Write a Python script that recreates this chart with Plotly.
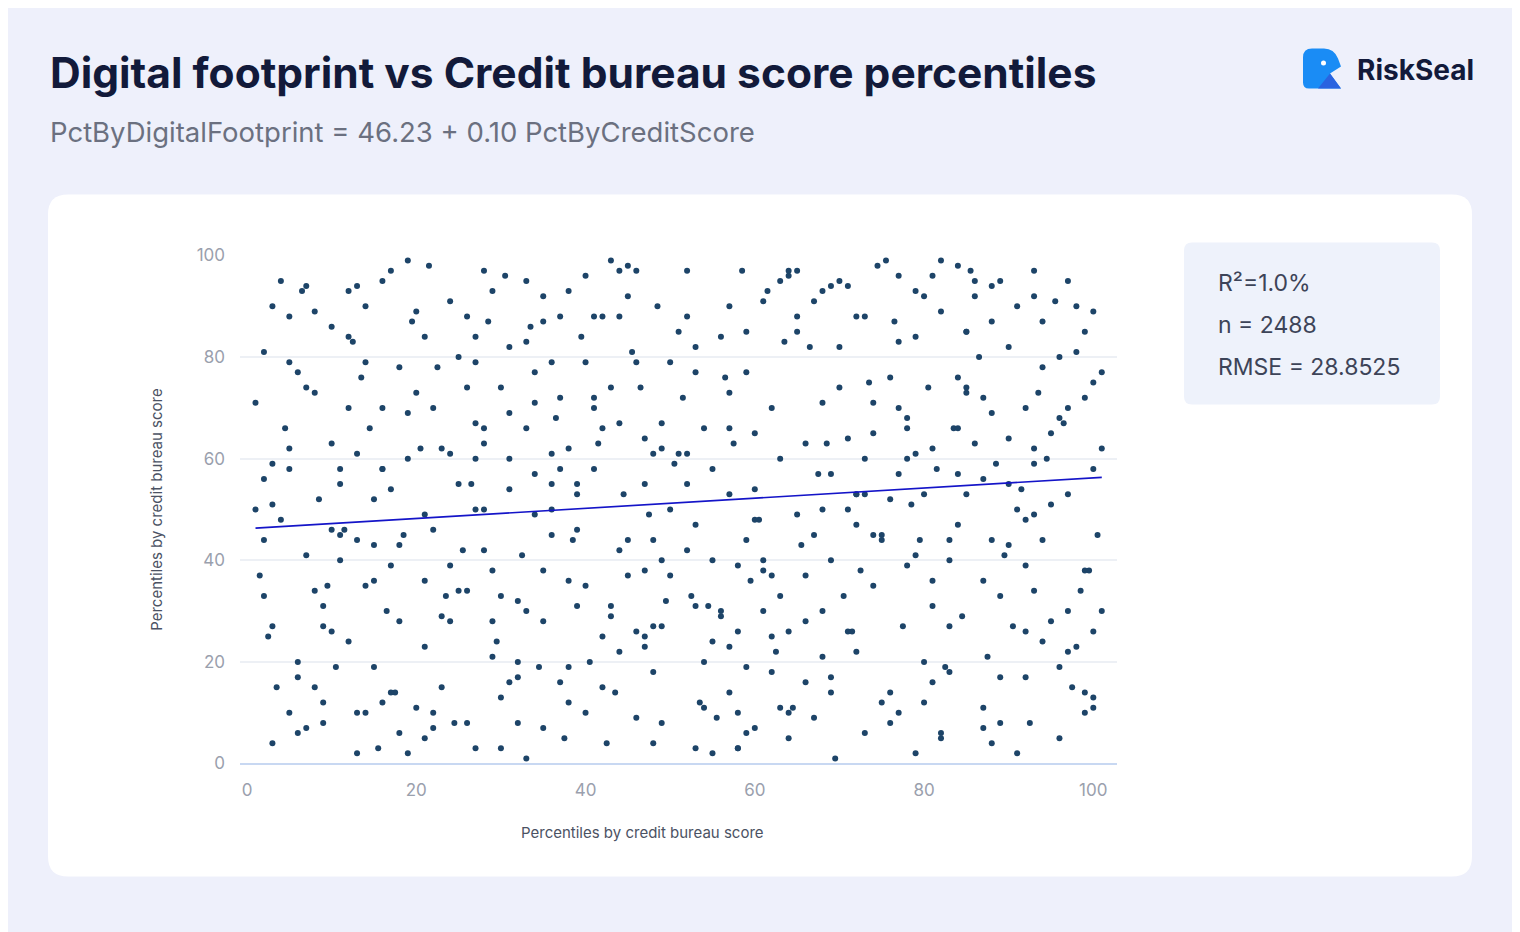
import plotly.graph_objects as go

W, H = 1520, 932
credit_pct = [
 2,5,9,13,17,21,26,30,34,38, 41,45,49,53,57,61,65,69,73,77,
 81,85,89,93,97,100,3,7,11,15, 19,23,27,31,35,39,43,47,51,55,
 59,63,67,71,75,79,83,87,91,95, 99,4,8,12,16,20,24,28,32,36,
 40,44,48,52,56,60,64,68,72,76, 80,84,88,92,96,101,6,10,14,18,
 22,26,30,34,38,42,46,50,54,58, 62,66,70,74,78,82,86,90,94,98,
 1.5,6.5,10.5,14.5,18.5,22.5,27,31,35,39.5, 43.5,47.5,51.5,55.5,59.5,63.5,67.5,71.5,75.5,79.5,
 83.5,87.5,91.5,95.5,99.5,3.5,8.5,12.5,16.5,20.5, 24.5,28.5,32.5,36.5,40.5,44.5,48.5,52.5,56.5,60.5,
 64.5,68.5,72.5,76.5,80.5,84.5,88.5,92.5,96.5,100.5, 2.5,7,11,15.5,19.5,23.5,28,32,36,40,
 44,48,52,56,60,64,68,72,76,80, 84,88,92,96,100,5,9,13,17,21,
 25,29,33,37,41,45,49,53,57,61, 65,69,73,77,81,85,89,93,97,101,
 4.5,9.5,13.5,17.5,21.5,25.5,29.5,33.5,37.5,41.5, 45.5,49.5,53.5,57.5,61.5,65.5,69.5,73.5,77.5,81.5,
 85.5,89.5,93.5,97.5,1,6,11.5,16,21,26.5, 30.5,34.5,38.5,42.5,46.5,50.5,54.5,58.5,62.5,66.5,
 70.5,74.5,78.5,82.5,86.5,90.5,94.5,98.5,3,8, 12,17,22,27,32,37,42,47,52,57,
 62,67,72,77,82,87,92,97,100,14, 19,24,29,34,39,44,49,54,59,64,
 69,74,79,84,89,94,99,2,7,13, 18,23,28,33,38,43,48,53,58,63,
 68,73,78,83,88,93,98,10,31,55, 46,27,71,90,15,35,79,59,85,5,
 3,8,14,19,25,30,36,41,47,52, 58,63,69,74,80,85,91,96,100,1,
 6,11,16,22,27,33,38,44,49,55, 60,66,71,77,82,88,93,99,4,9,
 15,20,26,31,37,42,48,53,59,64, 70,75,81,86,92,97,2,12,23,34,
 45,56,67,78,89,100,7,18,29,40, 51,62,73,84,95,10,21,32,43,54,
 65,76,87,98,5,16,27,38,49,60, 71,82,93,13,24,35,46,57,68,79,
 90,101,8,19,30,41,52,63,74,85, 96,3,14,25,36,47,58,69,80,91,
 11,22,33,44,55,66,77,88,99,6, 17,28,39,50,61,72,83,94,2,24,
 35,46,57,68,79,90,13,31,53,75, 97,20,42,64,86,9,37,59,81,100,
 26,48,70,92,15,39,61,83,5,28, 50,72,94,18,40,62,84,3,33,57,
 78,99,21,43,65,87,10,36,66,93, 12,45,76,29,58,87,16,47,81,95,
]
footprint_pct = [
 81,62,12,44,97,5,88,33,71,19, 58,92,27,3,66,40,85,14,53,96,
 31,74,8,59,22,89,27,94,55,36, 69,15,50,82,7,46,99,38,61,24,
 77,33,9,64,45,93,18,72,2,51, 85,48,73,24,58,11,91,42,17,79,
 35,67,4,88,29,54,96,21,47,76, 12,57,87,39,68,30,6,63,90,28,
 46,74,13,57,93,25,79,50,11,39, 70,16,82,35,60,5,95,43,78,23,
 37,93,19,66,45,78,3,60,28,84, 14,49,72,9,36,83,57,26,99,44,
 66,21,54,91,38,15,52,83,30,62, 8,87,41,68,20,53,90,33,76,48,
 11,63,38,87,74,29,59,8,67,45, 25,74,58,3,87,33,66,20,50,96,
 42,18,61,84,7,26,71,53,14,92, 47,69,26,80,13,88,31,10,54,36,
 55,28,95,16,72,37,62,47,23,91, 49,94,6,57,36,85,17,62,30,77,
 66,35,76,14,98,42,24,86,5,63, 81,32,12,63,93,43,1,75,27,58,
 97,41,73,15,71,17,46,70,23,55, 96,19,44,4,74,59,31,97,22,82,
 33,98,51,19,80,27,60,34,4,89, 93,39,10,84,32,58,88,23,97,53,
 37,91,22,10,99,56,48,95,58,79, 2,61,38,77,31,97,8,66,85,5,
 57,71,2,66,33,87,10,56,41,2, 78,29,50,1,62,31,44,82,3,60,
 30,88,68,40,4,97,81,46,69,40, 26,79,94,64,43,87,41,19,53,10,
 90,15,35,60,80,3,45,70,25,55, 10,95,40,65,20,85,50,5,75,50,
 20,45,95,70,60,30,12,88,40,2, 65,28,50,83,6,44,92,14,95,8,
 52,73,34,16,88,66,61,77,44,97, 74,12,62,92,17,70,44,70,62,49,
 98,30,45,39,95,11,7,43,93,10, 85,18,60,76,28,26,84,8,74,20,
 88,52,11,90,58,12,67,36,67,48, 26,89,34,61,39,92,9,14,93,61,
 82,62,34,99,74,88,42,11,45,73, 19,59,10,34,61,64,26,17,53,90,
 40,7,66,22,58,63,70,94,38,77, 14,63,55,79,30,88,27,44,33,28,
 38,97,90,50,84,55,94,54,31,44, 53,89,15,10,63,27,72,6,16,26,
 8,27,95,70,19,53,38,44,79,97, 37,53,24,6,79,25,98,51,83,73,
 66,72,49,29,97,7,86,55,37,49, 84,44,8,21,3,36,58,55,96,65,
]
fit_x = [1, 101]
intercept, slope = 46.23, 0.10
fit_y = [intercept + slope * v for v in fit_x]
stats = ["R²=1.0%", "n = 2488", "RMSE = 28.8525"]
xticks = [0, 20, 40, 60, 80, 100]
yticks = [0, 20, 40, 60, 80, 100]

# map reference-pixel positions to paper coordinates (compensates page offset)
def px(x): return (x - 8) / W
def py(y): return 1 - ((y - 17.5) / 0.9785) / H

fig = go.Figure()
fig.add_trace(go.Scatter(x=credit_pct, y=footprint_pct, mode="markers",
    marker=dict(size=6, color="#1d4468"), hoverinfo="skip", showlegend=False))
fig.add_trace(go.Scatter(x=fit_x, y=fit_y, mode="lines",
    line=dict(color="#1414c8", width=1.6), showlegend=False))

def rrect(x0, y0, x1, y1, r):
    return (f"M {px(x0+r)},{py(y0)} L {px(x1-r)},{py(y0)} Q {px(x1)},{py(y0)} {px(x1)},{py(y0+r)} "
            f"L {px(x1)},{py(y1-r)} Q {px(x1)},{py(y1)} {px(x1-r)},{py(y1)} L {px(x0+r)},{py(y1)} "
            f"Q {px(x0)},{py(y1)} {px(x0)},{py(y1-r)} L {px(x0)},{py(y0+r)} Q {px(x0)},{py(y0)} {px(x0+r)},{py(y0)} Z")

shapes = [
    dict(type="rect", xref="paper", yref="paper", x0=-0.1, x1=1.1, y0=-0.1, y1=1.1,
         fillcolor="#eef0fb", line=dict(width=0), layer="below"),
    dict(type="path", xref="paper", yref="paper", layer="below",
         path=rrect(48, 194, 1472, 876, 20), fillcolor="white", line=dict(width=0)),
    dict(type="path", xref="paper", yref="paper", layer="below",
         path=rrect(1184, 242, 1440, 404, 8), fillcolor="#eef2fb", line=dict(width=0)),
    dict(type="path", xref="paper", yref="paper",
         path=f"M {px(1303)},{py(57)} Q {px(1303)},{py(48)} {px(1312)},{py(48)} L {px(1324)},{py(48)} "
              f"Q {px(1334)},{py(48)} {px(1338)},{py(58)} L {px(1341)},{py(66)} L {px(1330)},{py(73)} "
              f"L {px(1341)},{py(88)} L {px(1309)},{py(88)} Q {px(1303)},{py(88)} {px(1303)},{py(82)} Z",
         fillcolor="#1a8cf5", line=dict(width=0)),
    dict(type="path", xref="paper", yref="paper",
         path=f"M {px(1330)},{py(73)} L {px(1341)},{py(88)} L {px(1318)},{py(88)} Z",
         fillcolor="#2a63e0", line=dict(width=0)),
    dict(type="circle", xref="paper", yref="paper", x0=px(1321), x1=px(1326), y0=py(60), y1=py(65),
         fillcolor="white", line=dict(width=0)),
]

ann = [
    dict(text="<b>Digital footprint vs Credit bureau score percentiles</b>", x=px(48), y=py(72),
         font=dict(size=42.5, color="#121a3a", family="Inter")),
    dict(text="PctByDigitalFootprint = 46.23 + 0.10 PctByCreditScore", x=px(48), y=py(131),
         font=dict(size=27.5, color="#6b7080", family="Inter")),
    dict(text="<b>RiskSeal</b>", x=px(1355), y=py(69),
         font=dict(size=28, color="#121a3a", family="Inter")),
    dict(text="Percentiles by credit bureau score", x=px(642), y=py(832), xanchor="center",
         font=dict(size=15, color="#4b5263", family="Inter")),
]
for i, s in enumerate(stats):
    ann.append(dict(text=s, x=px(1216), y=py(282 + 42 * i),
                    font=dict(size=23, color="#3d4458", family="Inter")))
for a in ann:
    a.setdefault("xanchor", "left")
    a.update(xref="paper", yref="paper", yanchor="middle", showarrow=False)

fig.update_layout(
    width=W, height=H, margin=dict(l=0, r=0, t=0, b=0),
    paper_bgcolor="#eef0fb", plot_bgcolor="rgba(0,0,0,0)",
    shapes=shapes, annotations=ann,
    xaxis=dict(domain=[px(240), px(1117)], range=[-0.83, 102.8], tickvals=xticks,
               showgrid=False, zeroline=False, showline=False,
               tickfont=dict(size=17, color="#9aa0ad", family="Inter"), ticklabelstandoff=14),
    yaxis=dict(domain=[py(763), py(255)], range=[0, 100], tickvals=yticks,
               showgrid=True, gridcolor="#edf0f5", gridwidth=1.5,
               zeroline=True, zerolinecolor="#c8d8f2", zerolinewidth=1.5,
               tickfont=dict(size=17, color="#9aa0ad", family="Inter"), ticklabelstandoff=14,
               title=dict(text="Percentiles by credit bureau score", standoff=30,
                          font=dict(size=15, color="#4b5263", family="Inter"))),
)
fig.write_html("out.html")
